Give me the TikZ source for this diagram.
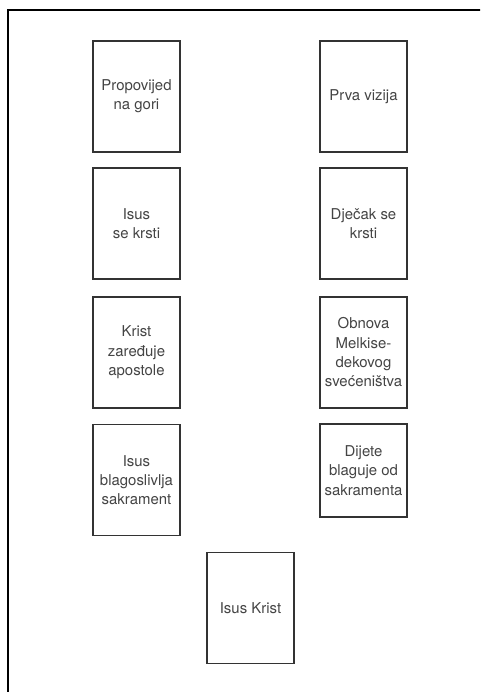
\documentclass[tikz,border=0pt]{standalone}
\usepackage{fontspec}
\setmainfont{TeX Gyre Heros}
\usepackage{xcolor}
\usepackage{tikz}
\usetikzlibrary{positioning}
\definecolor{framegray}{RGB}{51, 51, 51}
\definecolor{textgray}{RGB}{68, 68, 68}

\tikzset{
    scenebox/.style={draw=framegray, line width=1pt, fill=white, align=center,
          text=textgray, font=\fontsize{11.2}{14.5}\selectfont,
          minimum width=65.25pt, minimum height=83.25pt, inner sep=1pt},
    shortbox/.style={scenebox, minimum height=69.75pt}
}

\begin{document}
\begin{tikzpicture}[x=0.75pt, y=-0.75pt]
    \clip (0,0) rectangle (480,692);
    \draw[line width=1.1pt] (8,10) rectangle (500,720);

    % left column
    \node[scenebox] (propovijed) at (136.5,96.5) {Propovijed\\na gori};
    \node[scenebox] (krstenje) at (136.5,223.5) {Isus\\se krsti};
    \node[scenebox] (apostoli) at (136.5,352.5) {Krist\\zaređuje\\apostole};
    \node[scenebox] (blagoslov) at (136.5,480) {Isus\\blagoslivlja\\sakrament};

    % right column
    \node[scenebox] (vizija) at (363.5,96.5) {Prva vizija};
    \node[scenebox] (djecak) at (363.5,223.5) {Dječak se\\krsti};
    \node[scenebox] (obnova) at (363.5,352.5) {Obnova\\Melkise-\\dekovog\\svećeništva};
    \node[shortbox] (dijete) at (363.5,470.5) {Dijete\\blaguje od\\sakramenta};

    \node[scenebox] (krist) at (250.5,608) {Isus Krist};
\end{tikzpicture}
\end{document}
